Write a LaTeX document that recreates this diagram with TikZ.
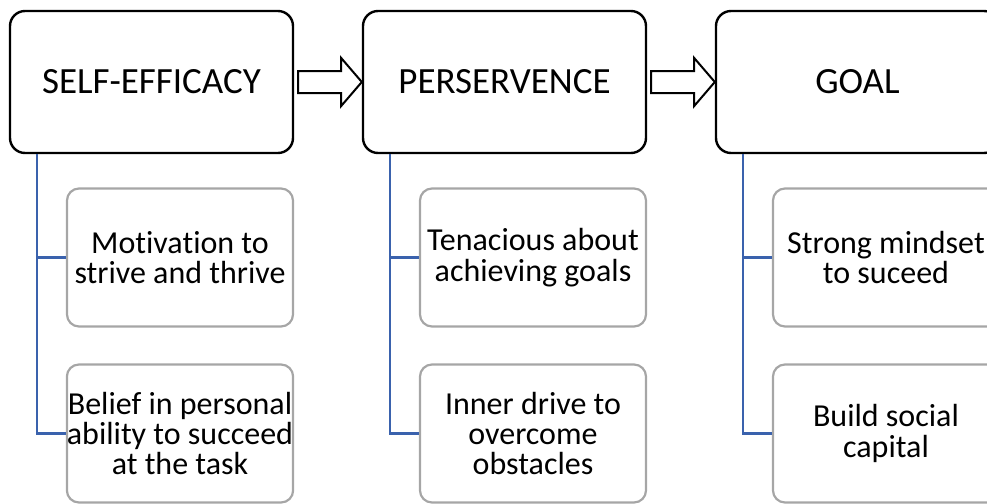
\documentclass[tikz,border=0pt]{standalone}
\usepackage{fontspec}
\setmainfont{Carlito}[Ligatures=NoCommon]
\usetikzlibrary{positioning,calc}
\definecolor{stBlue}{HTML}{3A62AD}
\definecolor{stGray}{HTML}{A6A6A6}
\tikzset{
  stage/.style={
    draw=black, line width=1.2pt, rounded corners=7.5pt, minimum width=141.5pt,
    minimum height=71pt, inner sep=0pt, font=\fontsize{18.5}{21}\selectfont
  },
  trait/.style={
    draw=stGray, line width=1.1pt, rounded corners=6pt, minimum width=113pt,
    minimum height=69pt, inner sep=0pt, align=center,
    font=\fontsize{16}{15.2}\selectfont
  },
  branch/.style={stBlue, line width=1.1pt},
  blockarrow/.style={draw=black, line width=1pt, fill=white, line join=miter}
}

\begin{document}
\begin{tikzpicture}[x=0.5pt, y=-0.5pt]
  \useasboundingbox (0,0) rectangle (987,504);
  \clip (0,0) rectangle (987,504);
  \foreach \i/\col/\name/\up/\low in {
    1/10/{SELF-EFFICACY}/{Motivation to\\strive and thrive}/{Belief in personal\\ability to succeed\\at the task},
    2/363/{PERSERVENCE}/{Tenacious about\\achieving goals}/{Inner drive to\\overcome\\obstacles},
    3/716/{GOAL}/{Strong mindset\\to suceed}/{Build social\\capital}}{
    \node[stage] (top\i) at (\col+141.5, 82) {\name};
    \node[trait] (up\i) at (\col+170, 257.5) {\up};
    \node[trait] (low\i) at (\col+170, 433.5) {\low};
    \draw[branch] ($(top\i.south west)+(28,0)$) |- (up\i.west);
    \draw[branch] ($(top\i.south west)+(28,0)$) |- (low\i.west);
  }
  % block arrows between the stages
  \foreach \i/\j in {1/2, 2/3}{
    \draw[blockarrow] ($(top\i.east)+(4,-11)$) -- ++(43,0) -- ++(0,-13)
      -- (top\j.west) -- ($(top\i.east)+(47,24)$) -- ++(0,-13)
      -- ($(top\i.east)+(4,11)$) -- cycle;
  }
\end{tikzpicture}
\end{document}
